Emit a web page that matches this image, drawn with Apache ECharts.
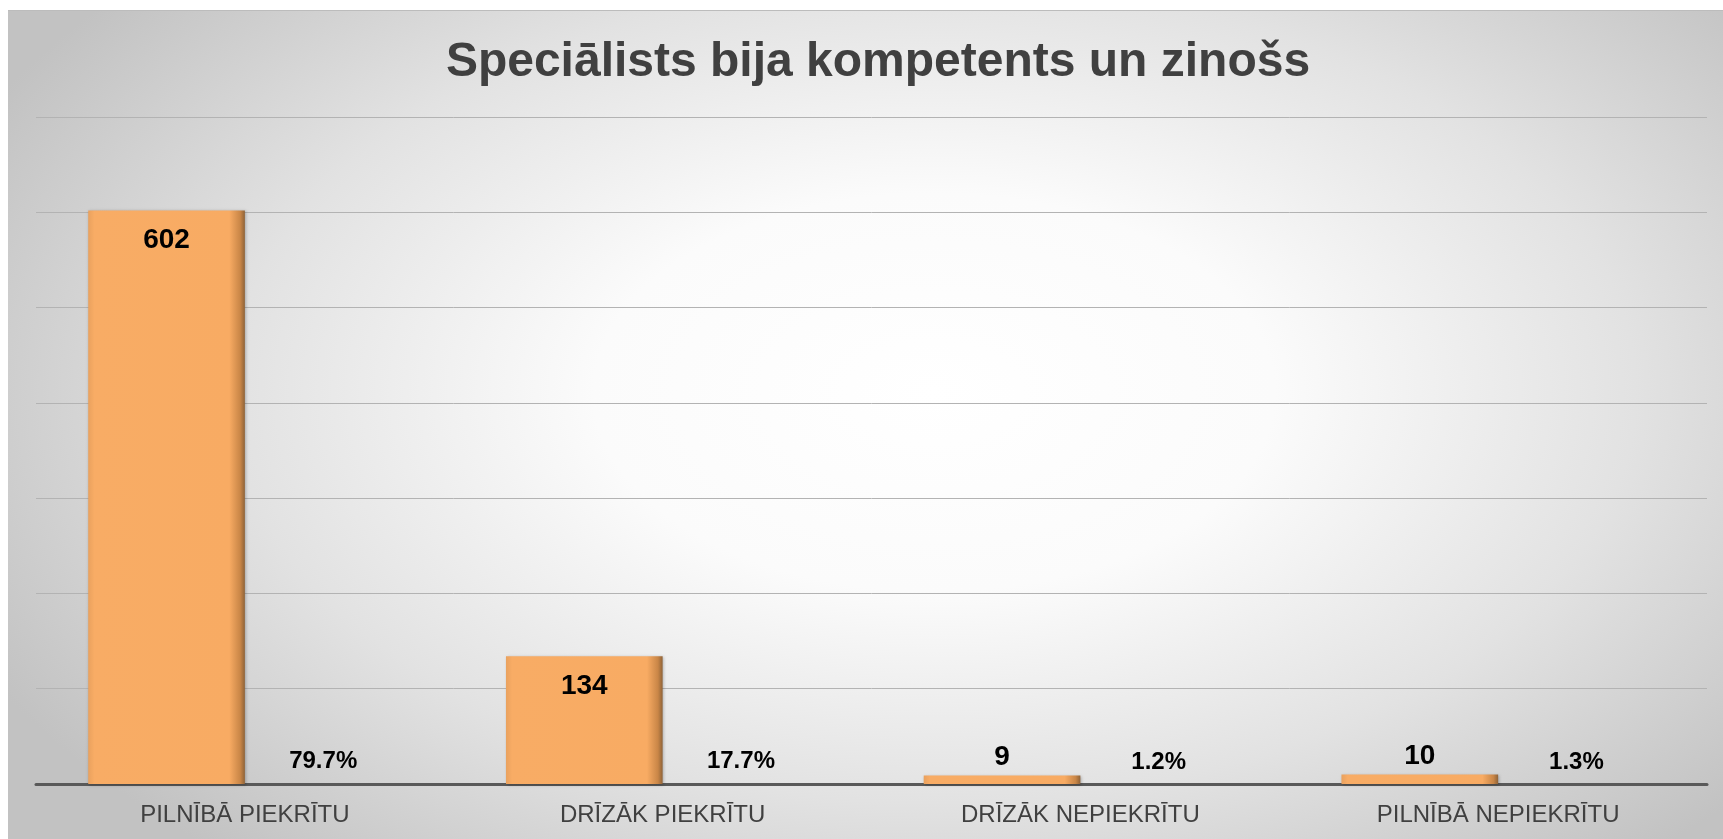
<!DOCTYPE html>
<html>
<head>
<meta charset="utf-8">
<script src="https://cdn.jsdelivr.net/npm/echarts@6/dist/echarts.min.js"></script>
<style>
  html, body { margin: 0; padding: 0; background: #fff; }
  #bg {
    position: absolute; left: 8px; top: 10px; width: 1715px; height: 829px;
    border-top: 1px solid #bcbcbc;
    background: radial-gradient(ellipse 62% 75% at 54% 46%, #ffffff 0%, #fbfbfb 32%, #e2e2e2 66%, #c2c2c2 100%);
  }
  #board { position: absolute; left: 0; top: 0; width: 1723px; height: 839px; }
</style>
</head>
<body>
<div id="bg"></div>
<div id="board"></div>
<script>
// dati
var titleText = "Speciālists bija kompetents un zinošs";
var categories = ["PILNĪBĀ PIEKRĪTU", "DRĪZĀK PIEKRĪTU", "DRĪZĀK NEPIEKRĪTU", "PILNĪBĀ NEPIEKRĪTU"];
var counts = [602, 134, 9, 10];
var shares = [0.797, 0.177, 0.012, 0.013];
var yTicks = [0, 100, 200, 300, 400, 500, 600, 700];

var myChart = echarts.init(document.getElementById("board"));

// oranžais stabiņš ar mazu "bevel" efektu
var barColor = new echarts.graphic.LinearGradient(0, 0, 1, 0, [
  { offset: 0, color: "#e9a15e" },
  { offset: 0.04, color: "#f8ac65" },
  { offset: 0.9, color: "#f8ab63" },
  { offset: 0.97, color: "#c98647" },
  { offset: 1, color: "#8f6338" }
]);

var option = {
  backgroundColor: "transparent",
  title: {
    text: titleText,
    left: 873,
    textAlign: "center",
    top: 34,
    textStyle: {
      fontFamily: "Liberation Sans, Arial, sans-serif",
      fontSize: 48,
      fontWeight: "bold",
      color: "#404040"
    }
  },
  grid: { left: 36, right: 16, top: 117, bottom: 55 },
  xAxis: {
    type: "category",
    data: categories,
    axisTick: { show: false },
    axisLine: { lineStyle: { color: "#595959", width: 3 } },
    axisLabel: {
      margin: 19,
      fontFamily: "Liberation Sans, Arial, sans-serif",
      fontSize: 24,
      color: "#404040"
    }
  },
  yAxis: {
    type: "value",
    min: yTicks[0],
    max: yTicks[yTicks.length - 1],
    interval: yTicks[1] - yTicks[0],
    axisLabel: { show: false },
    axisLine: { show: false },
    axisTick: { show: false },
    splitLine: { lineStyle: { color: "#b3b3b3", width: 1 } }
  },
  series: [
    {
      name: "Skaits",
      type: "bar",
      barGap: "0%",
      barCategoryGap: "25%",
      data: counts.map(function (v) {
        var small = v < 50;
        return {
          value: v,
          label: {
            position: small ? "top" : "insideTop",
            distance: small ? 4 : 16
          }
        };
      }),
      itemStyle: {
        color: barColor,
        shadowColor: "rgba(0,0,0,0.25)",
        shadowBlur: 3,
        shadowOffsetX: 1,
        shadowOffsetY: 1
      },
      label: {
        show: true,
        fontFamily: "Liberation Sans, Arial, sans-serif",
        fontSize: 28,
        fontWeight: "bold",
        color: "#000"
      }
    },
    {
      name: "Procenti",
      type: "bar",
      data: shares,
      itemStyle: { color: "transparent" },
      label: {
        show: true,
        position: "top",
        distance: 10,
        fontFamily: "Liberation Sans, Arial, sans-serif",
        fontSize: 24,
        fontWeight: "bold",
        color: "#000",
        formatter: function (p) {
          return (p.value * 100).toFixed(1) + "%";
        }
      }
    }
  ]
};

myChart.setOption(option);
</script>
</body>
</html>
